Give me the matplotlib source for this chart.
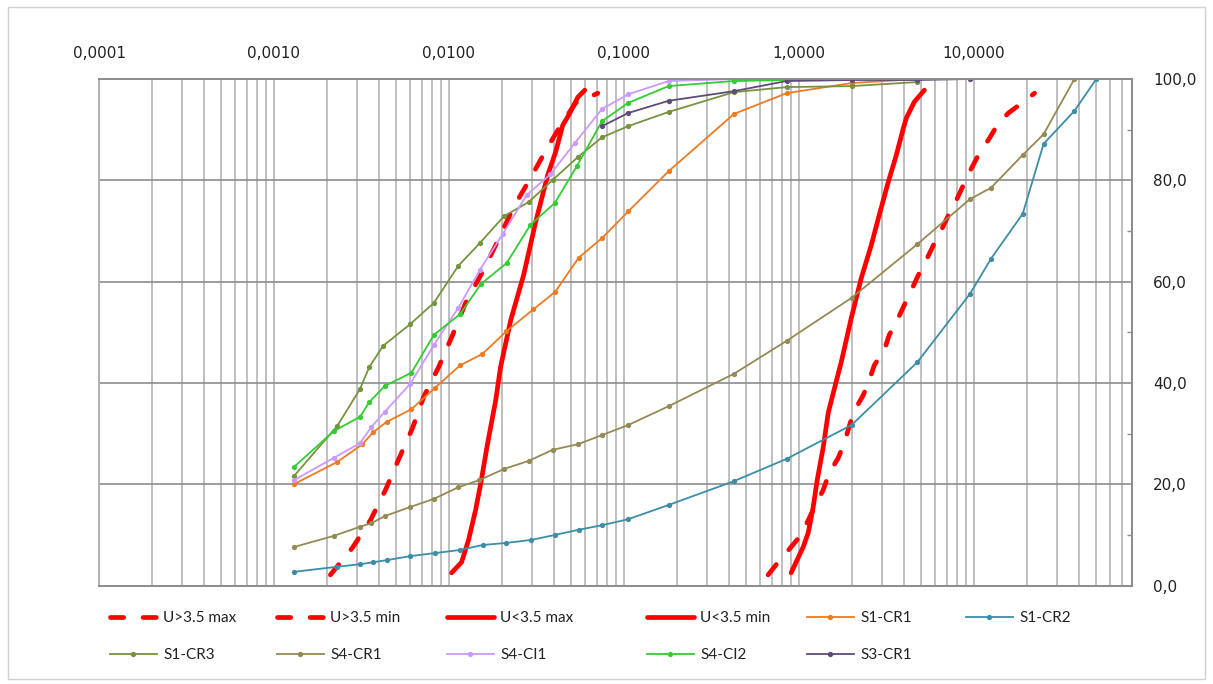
import matplotlib
matplotlib.use("Agg")
import matplotlib.pyplot as plt
from matplotlib.ticker import FixedLocator, FuncFormatter, LogLocator, NullFormatter
from matplotlib.patches import Rectangle

# ---------------- data ----------------
sieve = [0.075, 0.106, 0.18, 0.425, 0.85, 2.0, 4.75, 9.5, 12.5, 19.0, 25.0, 37.5, 50.0]

umax_gt_x = [0.0021, 0.0028, 0.00356, 0.00434, 0.00514, 0.00619, 0.00716, 0.00872, 0.0105,
             0.01245, 0.0152, 0.0185, 0.0234, 0.0293, 0.0367, 0.0447, 0.0530, 0.0589, 0.0709]
umax_gt_y = [2.1, 7.4, 12.9, 18.9, 24.8, 31.1, 37.2, 43.1, 49.5, 55.8, 61.3, 67.2, 74.7,
             80.5, 86.6, 91.5, 95.3, 95.9, 97.2]

umin_gt_x = [0.666, 0.760, 0.902, 1.029, 1.144, 1.376, 1.489, 1.677, 1.814, 2.043, 2.331,
             2.489, 2.695, 3.074, 3.283, 3.601, 4.001, 4.387, 4.813, 5.349, 5.865, 6.516,
             7.240, 7.940, 8.825, 9.550, 10.75, 12.11, 13.81, 15.76, 19.20, 22.20]
umin_gt_y = [2.1, 4.6, 7.6, 10.0, 13.3, 18.9, 22.2, 25.2, 28.1, 34.1, 37.6, 40.0, 43.5, 46.5,
             49.5, 52.0, 55.4, 58.3, 61.3, 64.3, 67.2, 70.2, 73.5, 76.1, 79.5, 82.0, 85.4,
             88.0, 91.3, 93.3, 95.5, 97.2]

umax_lt_x = [0.01035, 0.0118, 0.01294, 0.01419, 0.0152, 0.01663, 0.0185, 0.0197, 0.02254,
             0.0267, 0.0313, 0.0367, 0.0407, 0.0447, 0.0484, 0.0545, 0.0597]
umax_lt_y = [2.5, 4.6, 9.0, 14.9, 20.2, 28.1, 36.6, 43.1, 52.4, 61.3, 71.8, 81.1, 85.6,
             90.9, 92.9, 96.4, 97.8]

umin_lt_x = [0.902, 1.057, 1.129, 1.206, 1.271, 1.376, 1.470, 1.570, 1.744, 1.990, 2.270,
             2.590, 2.878, 3.241, 3.601, 3.950, 4.108, 4.565, 5.208]
umin_lt_y = [2.5, 7.6, 10.4, 15.5, 20.8, 27.3, 34.1, 38.0, 44.1, 52.8, 60.7, 67.2, 73.2,
             79.7, 85.0, 90.3, 92.3, 95.5, 97.8]

s1cr1_x = [0.0013, 0.0023, 0.0032, 0.0037, 0.0044, 0.0061, 0.0083, 0.0116, 0.0155, 0.0213,
           0.0303, 0.0405, 0.055, 0.075, 0.106, 0.18, 0.425, 0.85, 2.0, 4.75]
s1cr1_y = [20.0, 24.4, 27.9, 30.3, 32.3, 34.8, 39.0, 43.5, 45.7, 50.2, 54.5, 58.0, 64.7,
           68.6, 73.9, 81.8, 93.1, 97.2, 99.2, 100.0]

s1cr2_x = [0.0013, 0.0023, 0.0031, 0.0037, 0.0044, 0.0060, 0.0083, 0.0115, 0.0156, 0.0212,
           0.0296, 0.0405, 0.055] + sieve
s1cr2_y = [2.7, 3.7, 4.2, 4.6, 5.0, 5.8, 6.4, 7.0, 8.0, 8.4, 9.0, 10.0, 11.0, 11.9, 13.1,
           15.9, 20.6, 25.0, 31.7, 44.1, 57.6, 64.5, 73.4, 87.2, 93.7, 100.0]

s1cr3_x = [0.0013, 0.0023, 0.0031, 0.0035, 0.0042, 0.0060, 0.0082, 0.0113, 0.0150, 0.0206,
           0.0285, 0.0392, 0.0546] + sieve[:7]
s1cr3_y = [21.6, 31.5, 38.8, 43.1, 47.3, 51.6, 55.8, 63.1, 67.6, 72.9, 75.7, 80.1, 84.6,
           88.5, 90.7, 93.5, 97.4, 98.4, 98.6, 99.4]

s4cr1_x = [0.0013, 0.0022, 0.0031, 0.0036, 0.0043, 0.0060, 0.0082, 0.0113, 0.0149, 0.0206,
           0.0285, 0.0392, 0.0546] + sieve[:12]
s4cr1_y = [7.6, 9.8, 11.6, 12.3, 13.7, 15.5, 17.1, 19.4, 20.8, 23.0, 24.6, 26.8, 27.9, 29.7,
           31.7, 35.4, 41.8, 48.3, 56.8, 67.4, 76.3, 78.5, 85.0, 89.1, 100.0]

s4ci1_x = [0.0013, 0.0022, 0.0031, 0.0036, 0.0043, 0.0060, 0.0082, 0.0113, 0.0150, 0.0203,
           0.0278, 0.0380, 0.0525] + sieve[:6]
s4ci1_y = [20.8, 25.2, 28.1, 31.3, 34.3, 39.8, 47.5, 54.8, 62.3, 69.4, 77.1, 81.2, 87.4,
           94.1, 97.0, 99.6, 100.0, 100.0, 100.0]

s4ci2_x = [0.0013, 0.0022, 0.0031, 0.0035, 0.0043, 0.0061, 0.0082, 0.0116, 0.0152, 0.0214,
           0.0292, 0.0402, 0.0538] + sieve[:7]
s4ci2_y = [23.4, 30.5, 33.3, 36.2, 39.4, 42.0, 49.5, 53.6, 59.5, 63.7, 71.2, 75.5, 82.8,
           91.7, 95.3, 98.6, 99.6, 99.8, 100.0, 100.0]

s3cr1_x = sieve[:8]
s3cr1_y = [90.7, 93.3, 95.7, 97.6, 99.6, 99.8, 99.8, 100.0]

labels = ["U>3.5 max", "U>3.5 min", "U<3.5 max", "U<3.5 min", "S1-CR1", "S1-CR2",
          "S1-CR3", "S4-CR1", "S4-CI1", "S4-CI2", "S3-CR1"]
x_ticks = [1e-4, 1e-3, 1e-2, 1e-1, 1.0, 10.0]
y_ticks = [0, 20, 40, 60, 80, 100]
y_minor = [10, 30, 50, 70, 90]

# ---------------- figure ----------------
W, H = 1213, 684
fig = plt.figure(figsize=(W / 100, H / 100), dpi=100)
fig.patch.set_facecolor("white")
fig.add_artist(Rectangle((8 / W, 1 - 679 / H), (1205 - 8) / W, (679 - 7) / H,
                         transform=fig.transFigure, fill=False, edgecolor="#D0D0D0", lw=1.0))

ax = fig.add_axes([99 / W, 1 - 585.5 / H, (1132 - 99) / W, (585.5 - 79) / H])
ax.set_xscale("log")
ax.set_xlim(1e-4, 80)
ax.set_ylim(0, 100)
ax.set_axisbelow(True)

red = "#FF0000"
dash = (0, (2.8, 4.1))
lines = []
l, = ax.plot(umax_gt_x, umax_gt_y, color=red, lw=3.4, linestyle=dash, dash_capstyle="round")
lines.append(l)
l, = ax.plot(umin_gt_x, umin_gt_y, color=red, lw=3.4, linestyle=dash, dash_capstyle="round")
lines.append(l)
l, = ax.plot(umax_lt_x, umax_lt_y, color=red, lw=3.4, solid_capstyle="round")
lines.append(l)
l, = ax.plot(umin_lt_x, umin_lt_y, color=red, lw=3.4, solid_capstyle="round")
lines.append(l)

series = [(s1cr1_x, s1cr1_y, "#EE7B22"),
          (s1cr2_x, s1cr2_y, "#3B8EA5"),
          (s1cr3_x, s1cr3_y, "#77933C"),
          (s4cr1_x, s4cr1_y, "#948A54"),
          (s4ci1_x, s4ci1_y, "#CC99FF"),
          (s4ci2_x, s4ci2_y, "#33CC33"),
          (s3cr1_x, s3cr1_y, "#604A7B")]
for xs, ys, c in series:
    l, = ax.plot(xs, ys, color=c, lw=1.3, marker="o", markersize=3.8,
                 markeredgewidth=0, markerfacecolor=c)
    lines.append(l)

# axes styling
ax.xaxis.set_major_locator(FixedLocator(x_ticks))
ax.xaxis.set_minor_locator(LogLocator(base=10, subs=range(2, 10), numticks=30))
ax.xaxis.set_minor_formatter(NullFormatter())
ax.xaxis.set_major_formatter(FuncFormatter(lambda v, p: f"{v:.4f}".replace(".", ",")))
ax.xaxis.tick_top()
ax.tick_params(axis="x", which="both", length=0, pad=13, labelsize=11, labelcolor="#222222",
               top=True, bottom=False, labeltop=True, labelbottom=False)

ax.yaxis.set_major_locator(FixedLocator(y_ticks))
ax.yaxis.set_minor_locator(FixedLocator(y_minor))
ax.yaxis.set_major_formatter(FuncFormatter(lambda v, p: f"{v:.1f}".replace(".", ",")))
ax.yaxis.tick_right()
ax.tick_params(axis="y", which="major", length=0, pad=15, labelsize=11, labelcolor="#222222",
               right=True, left=False, labelright=True, labelleft=False)
ax.tick_params(axis="y", which="minor", direction="in", length=3.5, width=1.0,
               color="#8C8C8C", right=True, left=False)

ax.grid(True, axis="x", which="both", color="#B4B4B4", lw=1.2)
ax.grid(True, axis="y", which="major", color="#8C8C8C", lw=1.2)
for t in ax.yaxis.get_major_ticks():
    if t.get_loc() in (40, 60):
        t.gridline.set_color("#C8C8C8")

for s in ax.spines.values():
    s.set_color("#8C8C8C")
    s.set_linewidth(1.4)
ax.spines["left"].set_color("#B0B0B0")

# legend: six columns placed like the reference (row-major order)
col_members = [[0, 6], [1, 7], [2, 8], [3, 9], [4, 10], [5]]
col_left_px = [110, 277, 447, 647, 807, 966]
legs = []
for members, xpx in zip(col_members, col_left_px):
    leg = fig.legend([lines[i] for i in members], [labels[i] for i in members],
                     loc="upper left", bbox_to_anchor=(xpx / W, 1 - 611 / H),
                     bbox_transform=fig.transFigure, frameon=False,
                     prop=dict(family=["Lato", "DejaVu Sans"], size=11),
                     handlelength=3.07, handletextpad=0.4, labelspacing=1.5,
                     borderpad=0, borderaxespad=0, labelcolor="#222222")
    legs.append(leg)

fig.savefig("out.png", dpi=100, facecolor="white")
